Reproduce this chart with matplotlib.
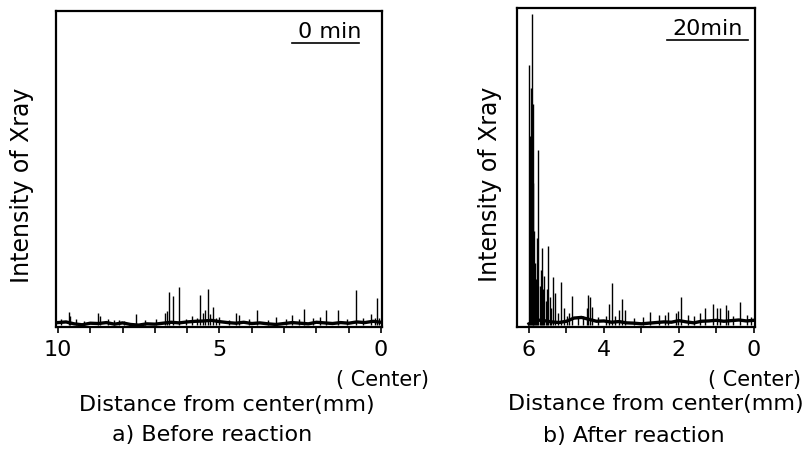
import numpy as np
import matplotlib.pyplot as plt

# ===== 数据：a) 反应前 (0 min) =====
a_base_x = [10.0, 9.75, 9.5, 9.25, 9.0, 8.75, 8.5, 8.25, 8.0, 7.75, 7.5, 7.25, 7.0, 6.75, 6.5,
            6.25, 6.0, 5.75, 5.5, 5.25, 5.0, 4.75, 4.5, 4.25, 4.0, 3.75, 3.5, 3.25, 3.0, 2.75,
            2.5, 2.25, 2.0, 1.75, 1.5, 1.25, 1.0, 0.75, 0.5, 0.25, 0.0]
a_base_y = [1.4, 1.6, 1.0, 0.7, 1.2, 1.1, 1.4, 0.9, 1.3, 0.8, 0.6, 1.0, 0.9, 1.2, 1.5,
            1.3, 1.6, 1.8, 1.9, 2.1, 1.7, 1.4, 1.2, 1.5, 1.1, 1.3, 1.0, 0.8, 1.1, 1.4,
            1.2, 1.0, 1.5, 1.3, 1.1, 1.4, 1.2, 1.6, 1.4, 1.8, 1.5]
a_peak_x = [9.9, 9.66, 9.62, 9.45, 9.2, 8.75, 8.70, 8.45, 8.27, 8.11, 7.95, 7.59, 7.3, 6.95,
            6.69, 6.62, 6.55, 6.45, 6.25, 6.05, 5.84, 5.70, 5.60, 5.51, 5.45, 5.37, 5.30,
            5.19, 5.10, 5.02, 4.70, 4.50, 4.40, 4.10, 3.85, 3.50, 3.26, 2.95, 2.76, 2.55,
            2.37, 2.10, 1.90, 1.70, 1.34, 1.05, 0.77, 0.55, 0.31, 0.20, 0.13, 0.05]
a_peak_y = [2.5, 4.8, 3.5, 2.4, 2.0, 4.5, 3.5, 2.6, 2.2, 2.2, 2.0, 4.1, 2.2, 2.4,
            4.5, 5.0, 11.2, 9.8, 12.8, 2.6, 3.5, 3.0, 10.1, 4.4, 5.5, 12.0, 4.0,
            6.4, 2.8, 3.3, 2.3, 4.3, 3.8, 2.4, 5.4, 2.2, 3.2, 2.6, 3.8, 2.5,
            5.7, 2.8, 3.2, 5.5, 5.4, 2.6, 11.7, 2.7, 4.1, 3.0, 9.1, 3.0]

# ===== 数据：b) 反应后 (20 min) =====
b_base_x = [6.0, 5.8, 5.6, 5.4, 5.2, 5.0, 4.8, 4.6, 4.4, 4.2, 4.0, 3.8, 3.6, 3.4, 3.2,
            3.0, 2.8, 2.6, 2.4, 2.2, 2.0, 1.8, 1.6, 1.4, 1.2, 1.0, 0.8, 0.6, 0.4, 0.2, 0.0]
b_base_y = [1.0, 2.2, 2.0, 1.6, 1.4, 1.8, 2.8, 3.0, 2.4, 1.8, 1.9, 1.5, 1.7, 1.3, 1.2,
            1.0, 1.2, 1.4, 1.6, 1.5, 2.0, 1.6, 1.3, 1.8, 1.9, 2.1, 1.8, 2.0, 2.2, 1.9, 2.1]
b_peak_x = [6.00, 5.97, 5.95, 5.93, 5.90, 5.88, 5.86, 5.83, 5.80, 5.78, 5.75, 5.71, 5.68,
            5.66, 5.62, 5.59, 5.55, 5.51, 5.48, 5.44, 5.40, 5.37, 5.31, 5.22, 5.15, 5.07,
            4.98, 4.93, 4.86, 4.70, 4.55, 4.44, 4.42, 4.37, 4.33, 4.15, 3.95, 3.87, 3.79,
            3.70, 3.59, 3.53, 3.44, 3.20, 2.95, 2.77, 2.53, 2.37, 2.28, 2.09, 2.02, 1.95,
            1.75, 1.60, 1.44, 1.31, 1.09, 0.98, 0.91, 0.75, 0.69, 0.55, 0.37, 0.19, 0.08]
b_peak_y = [82, 60, 75, 98, 70, 45, 30, 20, 15, 28, 55.5, 13, 18,
            24.7, 12, 16, 8, 12, 25.5, 9.5, 6, 15.7, 10.6, 4.5, 14.2, 6,
            3.5, 4.4, 9.7, 3.2, 3.5, 5.9, 10, 9.3, 6.4, 3.0, 3.4, 7.2, 13.7,
            3.6, 5.3, 8.8, 5.3, 2.8, 3.0, 4.6, 3.8, 3.8, 4.6, 4.3, 5.0, 9.5,
            3.8, 3.4, 4.3, 5.9, 7.2, 5.9, 5.9, 6.9, 5.3, 3.6, 7.9, 3.8, 3.2]

W, H = 807, 455
fig = plt.figure(figsize=(W / 100, H / 100), dpi=100)
fs = 16


def panel(rect, bx, by, px, py, xlim, majors, minors, tag, tag_xy, line_x, ylab_xy):
    ax = fig.add_axes(rect)
    ax.plot(bx, by, color='black', lw=2.4)
    ax.vlines(px, 0.5, py, color='black', lw=1.0)
    ax.set_xlim(*xlim)
    ax.set_ylim(0, 100)
    ax.set_yticks([])
    ax.set_xticks(majors)
    ax.set_xticklabels([str(m) for m in majors], fontsize=fs)
    ax.set_xticks(minors, minor=True)
    ax.tick_params(axis='x', which='both', direction='out', length=4, width=1.2, pad=5)
    for s in ax.spines.values():
        s.set_linewidth(1.6)
    ax.set_ylabel('Intensity of Xray', fontsize=17, va='center')
    ax.yaxis.set_label_coords(*ylab_xy)
    # 右上角时间标注（带下划线）
    ax.text(tag_xy[0], tag_xy[1], tag, transform=ax.transAxes, fontsize=fs,
            ha='center', va='center')
    ax.plot(line_x, [0.9, 0.9], transform=ax.transAxes, color='black', lw=1.2,
            clip_on=False)
    return ax


ax1 = panel([56 / W, 1 - 327 / H, 326 / W, 316 / H], a_base_x, a_base_y, a_peak_x, a_peak_y,
            (10.06, -0.03), [10, 5, 0], list(range(0, 11)), '0 min', (0.84, 0.935),
            [0.725, 0.93], (-0.104, 0.449))
ax2 = panel([517 / W, 1 - 327 / H, 238 / W, 319 / H], b_base_x, b_base_y, b_peak_x, b_peak_y,
            (6.32, -0.03), [6, 4, 2, 0], list(range(0, 7)), '20min', (0.80, 0.935),
            [0.63, 0.97], (-0.113, 0.448))

# 轴下方文字
fig.text(383 / W, 1 - 380 / H, '( Center)', fontsize=15, ha='center', va='center')
fig.text(755 / W, 1 - 380 / H, '( Center)', fontsize=15, ha='center', va='center')
fig.text(227 / W, 1 - 405 / H, 'Distance from center(mm)', fontsize=fs, ha='center', va='center')
fig.text(656 / W, 1 - 404 / H, 'Distance from center(mm)', fontsize=fs, ha='center', va='center')
fig.text(212 / W, 1 - 435 / H, 'a) Before reaction', fontsize=fs, ha='center', va='center')
fig.text(634 / W, 1 - 436 / H, 'b) After reaction', fontsize=fs, ha='center', va='center')

fig.savefig('out.png', dpi=100)
